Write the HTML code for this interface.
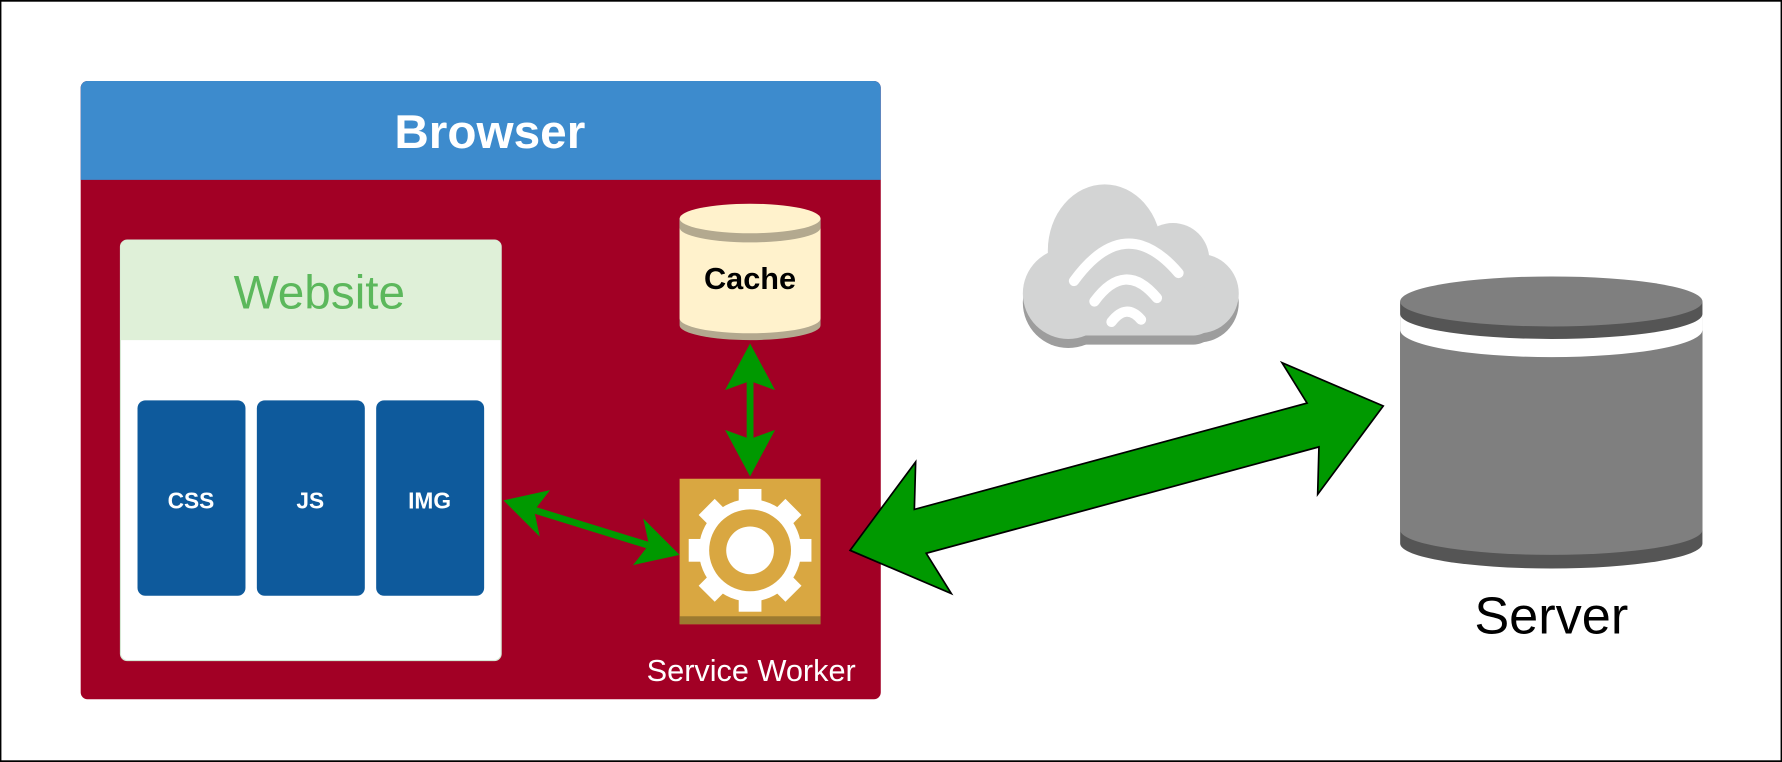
<!DOCTYPE html>
<html><head><meta charset="utf-8"><style>html,body{margin:0;padding:0;background:#fff}svg{display:block}</style></head>
<body>
<svg width="1782" height="762" viewBox="0 0 1568 670" xmlns="http://www.w3.org/2000/svg" font-family="Liberation Sans, Arial, sans-serif">
<rect x="0.5" y="0.5" width="1567" height="669" fill="#fff" stroke="#000" stroke-width="1.5"/>
<!-- Browser -->
<rect x="71" y="71" width="704" height="544" rx="6" fill="#a20025"/>
<path d="M71 158 V77 a6 6 0 0 1 6 -6 H769 a6 6 0 0 1 6 6 V158 Z" fill="#3d8bcd"/>
<text x="431" y="130" font-size="42" font-weight="bold" fill="#fff" text-anchor="middle">Browser</text>
<!-- Website -->
<rect x="106" y="211" width="335" height="370" rx="6" fill="#fff" stroke="#d5e8d4"/>
<path d="M106 299 V217 a6 6 0 0 1 6 -6 H435 a6 6 0 0 1 6 6 V299 Z" fill="#dff0d8"/>
<text x="281" y="271" font-size="42" fill="#5cb85c" text-anchor="middle">Website</text>
<rect x="121" y="352" width="95" height="172" rx="7" fill="#0e5a9c"/>
<rect x="226" y="352" width="95" height="172" rx="7" fill="#0e5a9c"/>
<rect x="331" y="352" width="95" height="172" rx="7" fill="#0e5a9c"/>
<g font-size="20" font-weight="bold" fill="#fff" text-anchor="middle">
<text x="168" y="447">CSS</text><text x="273" y="447">JS</text><text x="378" y="447">IMG</text></g>
<!-- Cache -->
<path d="M598 192 V286 A62 13 0 0 0 722 286 V192 Z" fill="#b3a98f"/>
<path d="M598 192 V280 A62 13 0 0 0 722 280 V192 Z" fill="#fff2cc"/>
<path d="M598 192 V200 A62 13 0 0 0 722 200 V192 Z" fill="#b3a98f"/>
<ellipse cx="660" cy="192" rx="62" ry="13" fill="#fff2cc"/>
<text x="660" y="254" font-size="27" font-weight="bold" fill="#000" text-anchor="middle">Cache</text>
<!-- vertical arrow -->
<line x1="660" y1="330" x2="660" y2="392" stroke="#009900" stroke-width="6"/>
<polygon points="660,302 682,343 660,335 638,343" fill="#009900"/>
<polygon points="660,419 682,378 660,386 638,378" fill="#009900"/>
<!-- gear box -->
<rect x="598" y="421" width="124" height="128" fill="#d9a741"/>
<rect x="598" y="542" width="124" height="7" fill="#9c7a30"/>
<g transform="translate(660,484)" fill="#fff">
<rect x="-10" y="-54" width="20" height="108"/>
<rect x="-54" y="-10" width="108" height="20"/>
<rect x="-10" y="-54" width="20" height="108" transform="rotate(45)"/>
<rect x="-10" y="-54" width="20" height="108" transform="rotate(-45)"/>
<circle r="45"/>
<circle r="36" fill="#d9a741"/>
<circle r="21"/>
</g>
<text x="661" y="599" font-size="27" fill="#fff" text-anchor="middle">Service Worker</text>
<!-- left small arrow -->
<line x1="465" y1="447" x2="575" y2="481" stroke="#009900" stroke-width="6"/>
<polygon points="443,440 484,431 470,449 475,472" fill="#009900"/>
<polygon points="598,488 557,497 571,479 566,456" fill="#009900"/>
<!-- big arrow -->
<g transform="translate(748,484) rotate(-15.15)">
<polygon points="0,0 76,-60 64,-20 422,-20 410,-60 486,0 410,60 422,20 64,20 76,60" fill="#009900" stroke="#000" stroke-width="1.5"/>
</g>
<!-- cloud -->
<g fill="#9d9d9d" transform="translate(0,8)">
<ellipse cx="972" cy="220" rx="50" ry="58"/><circle cx="1032" cy="228" r="32"/><circle cx="940" cy="258" r="40"/><circle cx="1055" cy="258" r="35"/>
<rect x="930" y="250" width="140" height="45" rx="20"/>
</g>
<g fill="#d3d4d4">
<ellipse cx="972" cy="220" rx="50" ry="58"/><circle cx="1032" cy="228" r="32"/><circle cx="940" cy="258" r="40"/><circle cx="1055" cy="258" r="35"/>
<rect x="930" y="250" width="140" height="45" rx="20"/>
</g>
<g fill="none" stroke="#fff" stroke-width="9" stroke-linecap="round">
<path d="M945 247 Q990 185 1037 240"/>
<path d="M963 265 Q990 228 1018 262"/>
<path d="M978 283 Q991 266 1004 281"/>
</g>
<!-- server -->
<path d="M1232 265 V478 A133 22 0 0 0 1498 478 V265 Z" fill="#555"/>
<path d="M1232 265 V466 A133 22 0 0 0 1498 466 V265 Z" fill="#7f7f7f"/>
<path d="M1232 265 V290 A133 24 0 0 0 1498 290 V265 Z" fill="#fff"/>
<path d="M1232 265 V276 A133 22 0 0 0 1498 276 V265 Z" fill="#555"/>
<ellipse cx="1365" cy="265" rx="133" ry="22" fill="#7f7f7f"/>
<text x="1365" y="557" font-size="46" fill="#000" text-anchor="middle">Server</text>
</svg>
</body></html>
